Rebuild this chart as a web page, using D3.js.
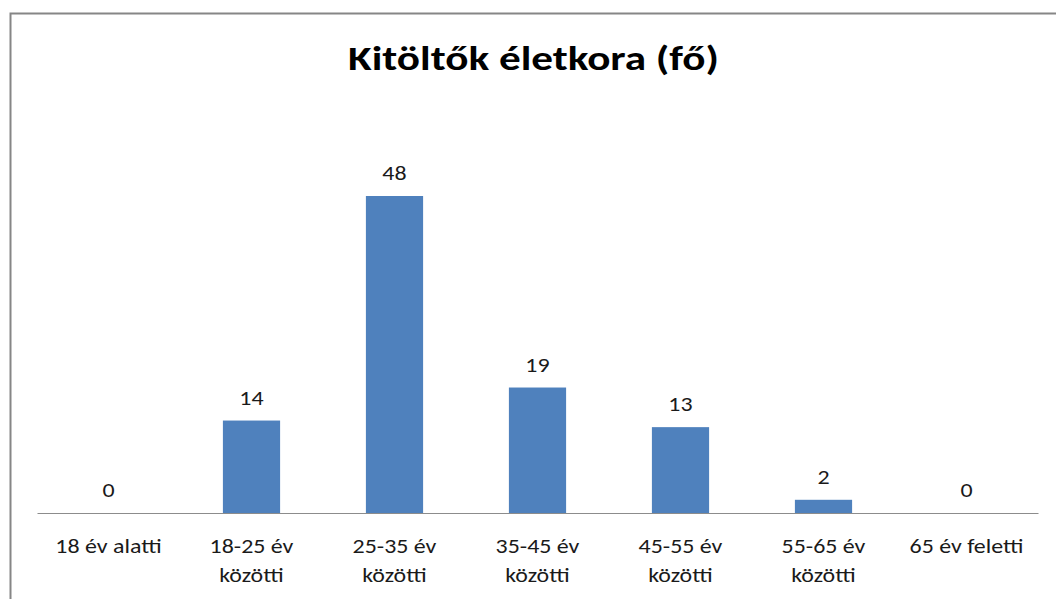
<!DOCTYPE html>
<html><head><meta charset="utf-8">
<script src="https://cdn.jsdelivr.net/npm/d3@7"></script>
<style>
html,body{margin:0;padding:0;background:#fff;}
svg{display:block;}
text{font-family:Carlito,Calibri,Lato,sans-serif;fill:#000;}
</style></head>
<body>
<svg id="c" width="1056" height="599"></svg>
<script>
const title = "Kitöltők életkora (fő)";
const categories = [
  ["18 év alatti"],
  ["18-25 év","közötti"],
  ["25-35 év","közötti"],
  ["35-45 év","közötti"],
  ["45-55 év","közötti"],
  ["55-65 év","közötti"],
  ["65 év feletti"]
];
const values = [0, 14, 48, 19, 13, 2, 0];

const svg = d3.select("#c");
const left = 37, right = 1038, axisY = 513, topY = 196;
const sxTitle = 1.27, sxText = 1.14;

// chart border
svg.append("rect").attr("x",10.5).attr("y",13.5).attr("width",1100).attr("height",700)
  .attr("fill","none").attr("stroke","#868686").attr("stroke-width",2);

svg.append("g").attr("transform",`translate(533.5,70) scale(${sxTitle},1)`)
  .append("text").attr("text-anchor","middle")
  .style("font-size","34px").style("font-weight","bold").text(title);

const idx = categories.map((d,i)=>i);
const x = d3.scaleBand().domain(idx).range([left,right]).padding(0);
const y = d3.scaleLinear().domain([0,48]).range([axisY, topY]);
const bw = x.bandwidth()*0.4;
const cx = i => x(i)+x.bandwidth()/2;

svg.append("g").selectAll("rect").data(values).join("rect")
  .attr("x",(d,i)=>cx(i)-bw/2)
  .attr("y",d=>y(d))
  .attr("width",bw)
  .attr("height",d=>axisY-y(d))
  .attr("fill","#4F81BD");

// axis
const axis = d3.axisBottom(x).tickSize(0).tickFormat("");
const ag = svg.append("g").attr("transform",`translate(0,${axisY})`).call(axis);
ag.select(".domain").attr("stroke","#8c8c8c").attr("stroke-width",1.2);

// category labels
const lab = svg.append("g").selectAll("g").data(categories).join("g")
  .attr("transform",(d,i)=>`translate(${cx(i)},0) scale(${sxText},1)`)
  .append("text").attr("text-anchor","middle").style("font-size","21px").style("fill","#1a1a1a");
lab.each(function(d){
  const t = d3.select(this);
  d.forEach((line,j)=>{
    t.append("tspan").attr("x",0).attr("y",553+j*29).text(line);
  });
});

// value labels
svg.append("g").selectAll("g").data(values).join("g")
  .attr("transform",(d,i)=>`translate(${cx(i)},${y(d)-16}) scale(${sxText},1)`)
  .append("text").attr("text-anchor","middle").style("font-size","21px").style("fill","#1a1a1a")
  .text(d=>d);
</script>
</body></html>
